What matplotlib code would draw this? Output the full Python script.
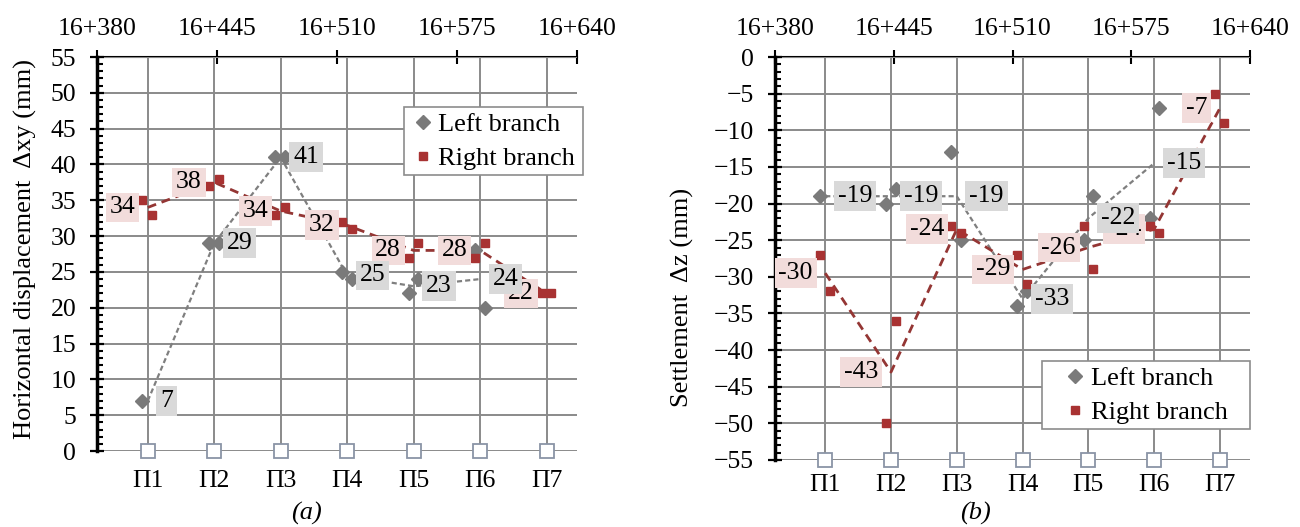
import numpy as np
import matplotlib
matplotlib.use('Agg')
import matplotlib.pyplot as plt
from matplotlib.lines import Line2D
from matplotlib.ticker import MultipleLocator

plt.rcParams['font.family'] = ['Liberation Serif', 'DejaVu Serif']

# ---------------- data ----------------
stations = ['П1', 'П2', 'П3', 'П4', 'П5', 'П6', 'П7']
station_ch = [407.5, 443.5, 479.5, 515.5, 551.5, 587.5, 623.5]
top_ticks = [380, 445, 510, 575, 640]
top_labels = ['16+380', '16+445', '16+510', '16+575', '16+640']

# chainages of individual measurement points
left_ch = [404.5, 440.5, 446, 476.5, 482, 512.5, 518, 549, 554, 585, 590]
right_ch = [404.5, 410, 440.5, 446, 476.5, 482, 512.5, 518, 549, 554, 585, 590, 621, 626]

# (a) horizontal displacement
a_left_val = [7, 29, 29, 41, 41, 25, 24, 22, 24, 28, 20]
a_right_val = [35, 33, 37, 38, 33, 34, 32, 31, 27, 29, 27, 29, 22, 22]
a_left_mean = [7, 29, 41, 24.5, 23, 24]
a_right_mean = [34, 37.5, 33.5, 31.5, 28, 28, 22]
a_base = [0, 0, 0, 0, 0, 0, 0]

# (b) settlement
b_left_val = [-19, -20, -18, -13, -25, -34, -32, -25, -19, -22, -7]
b_right_val = [-27, -32, -50, -36, -23, -24, -27, -31, -23, -29, -23, -24, -5, -9]
b_left_mean = [-19, -19, -19, -33, -22, -14.5]
b_right_mean = [-29.5, -43, -23.5, -29, -26, -23.5, -7]
b_base = [-55, -55, -55, -55, -55, -55, -55]

GRAY = '#7a7a7a'
GRAY_LINE = '#7f7f7f'
RED = '#a83232'
RED_LINE = '#943634'
GRID = '#8a8a8a'
BOX_GRAY = '#d9d9d9'
BOX_PINK = '#f2dcdb'
FS = 18.5


def rnd(v):
    return int(np.sign(v) * np.floor(abs(v) + 0.5))


def panel(ax, lval, rval, lmean, rmean, base, ylim, ystep, ylabel, lab_xy, xpad):
    ax.set_xlim(380, 640)
    ax.set_ylim(*ylim)
    ax.set_xticks(station_ch)
    ax.set_xticklabels(stations)
    ax.set_yticks(np.arange(ylim[0], ylim[1] + 0.1, ystep))
    ax.yaxis.set_minor_locator(MultipleLocator(1))
    ax.grid(True, which='major', color=GRID, lw=1.4)
    ax.set_axisbelow(True)
    for s in ('top', 'right', 'bottom'):
        ax.spines[s].set_visible(False)
    ax.spines['left'].set_linewidth(2.5)
    ax.tick_params(axis='x', which='both', length=0, pad=xpad, labelsize=FS)
    ax.tick_params(axis='y', which='major', direction='inout', length=10,
                   width=1.6, pad=10, labelsize=FS)
    ax.tick_params(axis='y', which='minor', direction='in', length=4.2, width=1.5)

    sec = ax.secondary_xaxis('top')
    sec.set_xticks(top_ticks)
    sec.set_xticklabels(top_labels)
    sec.tick_params(direction='inout', length=10, width=1.5, pad=7, labelsize=FS)
    sec.spines['top'].set_linewidth(1.5)

    ax.plot(station_ch, base, 's', ms=10, mfc='white', mec='#8a94a6', mew=1.3,
            ls='none', clip_on=False, zorder=3)
    ax.plot(station_ch[:len(lmean)], lmean, color=GRAY_LINE, lw=1.6,
            dashes=(2.3, 1.4), zorder=4)
    ax.plot(station_ch[:len(rmean)], rmean, color=RED_LINE, lw=2.0,
            dashes=(3.2, 2.1), zorder=4)
    ax.plot(left_ch, lval, 'D', ms=7, color=GRAY, ls='none', zorder=5)
    ax.plot(right_ch, rval, 's', ms=6, color=RED, ls='none', zorder=5)

    for i, v in enumerate(rmean):
        ax.annotate(str(rnd(v)), (station_ch[i], v), xytext=(-9, 0),
                    textcoords='offset points', ha='right', va='center',
                    fontsize=FS, zorder=6,
                    bbox=dict(boxstyle='square,pad=0.15', fc=BOX_PINK, ec='none'))
    for i, v in enumerate(lmean):
        ax.annotate(str(rnd(v)), (station_ch[i], v), xytext=(9, 0),
                    textcoords='offset points', ha='left', va='center',
                    fontsize=FS, zorder=7,
                    bbox=dict(boxstyle='square,pad=0.15', fc=BOX_GRAY, ec='none'))

    ax.set_ylabel(ylabel, fontsize=19, va='center')
    ax.yaxis.set_label_coords(*lab_xy)


W, H = 1300, 527
fig = plt.figure(figsize=(13, 5.27), dpi=100)
ax1 = fig.add_axes([97 / W, 1 - 451 / H, 480 / W, 394 / H])
ax2 = fig.add_axes([775 / W, 1 - 460 / H, 475 / W, 403 / H])

panel(ax1, a_left_val, a_right_val, a_left_mean, a_right_mean, a_base,
      (0, 55), 5, 'Horizontal displacement  Δxy (mm)', (-0.15, 0.513), 14)
panel(ax2, b_left_val, b_right_val, b_left_mean, b_right_mean, b_base,
      (-55, 0), 5, 'Settlement  Δz (mm)', (-0.194, 0.403), 10)

handles = [Line2D([], [], marker='D', ls='none', color=GRAY, ms=7),
           Line2D([], [], marker='s', ls='none', color=RED, ms=6)]
names = ['Left branch', 'Right branch']

leg1 = fig.legend(handles, names, loc='upper left',
                  bbox_to_anchor=(404 / W, 1 - 107 / H - 0.2, 179 / W, 0.2),
                  bbox_transform=fig.transFigure, mode='expand', borderaxespad=0,
                  fontsize=19, fancybox=False, edgecolor='#8c8c8c', framealpha=1,
                  borderpad=0.2, labelspacing=0.4, handlelength=1.04,
                  handletextpad=0.05)
leg1.get_frame().set_linewidth(1.2)

leg2 = fig.legend(handles, names, loc='upper left',
                  bbox_to_anchor=(1042 / W, 1 - 361 / H - 0.2, 208 / W, 0.2),
                  bbox_transform=fig.transFigure, mode='expand', borderaxespad=0,
                  fontsize=19, fancybox=False, edgecolor='#8c8c8c', framealpha=1,
                  borderpad=0.2, labelspacing=0.4, handlelength=2.1,
                  handletextpad=-0.45)
leg2.get_frame().set_linewidth(1.2)

fig.text(306 / W, 1 - 513 / H, '(a)', style='italic', fontsize=19,
         ha='center', va='center')
fig.text(975 / W, 1 - 513 / H, '(b)', style='italic', fontsize=19,
         ha='center', va='center')

fig.savefig('out.png', dpi=100)
